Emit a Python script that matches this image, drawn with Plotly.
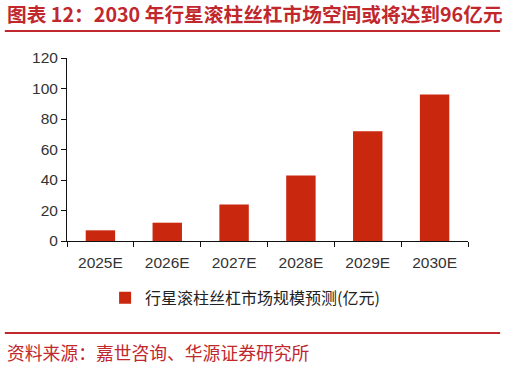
import plotly.graph_objects as go

categories = ["2025E", "2026E", "2027E", "2028E", "2029E", "2030E"]
values = [7, 12, 24, 43, 72, 96]
series_name = "行星滚柱丝杠市场规模预测(亿元)"
y_ticks = [0, 20, 40, 60, 80, 100, 120]

title_text = "图表 12：2030 年行星滚柱丝杠市场空间或将达到96亿元"
source_text = "资料来源：嘉世咨询、华源证券研究所"

red = "#C0282D"
bar_color = "#C9270E"
font_cjk = "Noto Sans CJK SC"

fig = go.Figure()
fig.add_trace(go.Bar(
    x=categories, y=values, name=series_name,
    marker=dict(color=bar_color, line=dict(width=0)),
    width=0.44,
))

fig.update_layout(
    width=506, height=366,
    margin=dict(l=67, r=38, t=58, b=125),
    paper_bgcolor="white", plot_bgcolor="white",
    font=dict(family="Liberation Sans, Arial, sans-serif", size=15, color="#333333"),
    showlegend=True,
    legend=dict(
        orientation="h", x=0.095, xanchor="left", y=-0.31, yanchor="middle",
        font=dict(family=font_cjk, size=16, color="#222222"),
        traceorder="normal",
    ),
    xaxis=dict(
        showline=True, linecolor="#111111", linewidth=1,
        ticks="outside", ticklen=5, tickcolor="#111111", tickson="boundaries",
        showgrid=False, tickfont=dict(size=15.5, color="#333333"),
        ticklabelstandoff=7,
    ),
    yaxis=dict(
        range=[0, 120], tickvals=y_ticks,
        showline=True, linecolor="#111111", linewidth=1,
        ticks="outside", ticklen=5, tickcolor="#111111",
        showgrid=False, zeroline=False, tickfont=dict(size=15.5, color="#333333"),
    ),
    shapes=[
        dict(type="line", xref="paper", yref="paper", x0=-0.155, x1=1.08,
             y0=(241 - 31) / 183.0, y1=(241 - 31) / 183.0,
             line=dict(color=red, width=2)),
        dict(type="line", xref="paper", yref="paper", x0=-0.155, x1=1.08,
             y0=(241 - 333) / 183.0, y1=(241 - 333) / 183.0,
             line=dict(color=red, width=2)),
    ],
    annotations=[
        dict(text="<b>" + title_text + "</b>", xref="paper", yref="paper",
             x=-0.155, y=(241 - 14) / 183.0, xanchor="left", yanchor="middle",
             showarrow=False, font=dict(family=font_cjk, size=19.7, color=red)),
        dict(text=source_text, xref="paper", yref="paper",
             x=-0.155, y=(241 - 352) / 183.0, xanchor="left", yanchor="middle",
             showarrow=False, font=dict(family=font_cjk, size=17.8, color=red)),
    ],
)

fig.write_html("out.html", config={"displayModeBar": False},
               post_script="document.body.style.margin='0';document.body.style.overflow='hidden';")
